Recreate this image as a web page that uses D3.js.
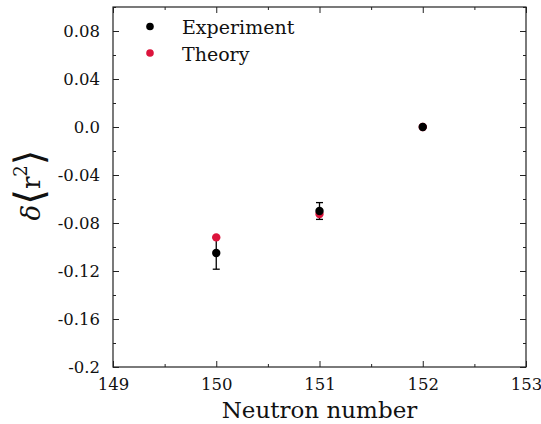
<!DOCTYPE html>
<html>
<head>
<meta charset="utf-8">
<script src="https://cdn.jsdelivr.net/npm/d3@7"></script>
<style>
  body { margin: 0; background: #fff; }
  svg text { font-family: "DejaVu Serif", serif; }
</style>
</head>
<body>
<svg id="chart"></svg>
<script>
// data
const neutrons = [150, 151, 152];
const experiment = [-0.105, -0.070, 0.0];
const expError = [0.0135, 0.007, 0];
const theory = [-0.092, -0.0725, 0.0];
const yTicks = [-0.2, -0.16, -0.12, -0.08, -0.04, 0.0, 0.04, 0.08];
const yTickLabels = ["-0.2", "-0.16", "-0.12", "-0.08", "-0.04", "0.0", "0.04", "0.08"];
const xTicks = [149, 150, 151, 152, 153];

const W = 541, H = 424;
const margin = { top: 7, right: 15, bottom: 57, left: 113 };
const width = W - margin.left - margin.right;
const height = H - margin.top - margin.bottom;

const svg = d3.select("#chart").attr("width", W).attr("height", H);
const g = svg.append("g").attr("transform", `translate(${margin.left},${margin.top})`);

const x = d3.scaleLinear().domain([149, 153]).range([0, width]);
const y = d3.scaleLinear().domain([-0.2, 0.1]).range([height, 0]);

const xMinor = d3.range(149.5, 153, 1);
const yMinor = d3.range(-0.18, 0.1, 0.04);

// ticks pointing inward on all four sides
function addTicks(sel, axis) {
  sel.call(axis);
  sel.attr("font-family", null);
  sel.select(".domain").remove();
  sel.selectAll("line").attr("stroke", "#222").attr("stroke-width", 1);
}

addTicks(g.append("g").attr("transform", `translate(0,${height})`),
  d3.axisBottom(x).tickValues(xTicks).tickSize(-6).tickPadding(11).tickFormat(d3.format("d")));
addTicks(g.append("g").attr("transform", `translate(0,${height})`),
  d3.axisBottom(x).tickValues(xMinor).tickSize(-3).tickFormat(""));
addTicks(g.append("g"), d3.axisTop(x).tickValues(xTicks).tickSize(-6).tickFormat(""));
addTicks(g.append("g"), d3.axisTop(x).tickValues(xMinor).tickSize(-3).tickFormat(""));

addTicks(g.append("g"),
  d3.axisLeft(y).tickValues(yTicks).tickSize(-6).tickPadding(13).tickFormat((d, i) => yTickLabels[i]));
addTicks(g.append("g"), d3.axisLeft(y).tickValues(yMinor).tickSize(-3).tickFormat(""));
addTicks(g.append("g").attr("transform", `translate(${width},0)`),
  d3.axisRight(y).tickValues(yTicks).tickSize(-6).tickFormat(""));
addTicks(g.append("g").attr("transform", `translate(${width},0)`),
  d3.axisRight(y).tickValues(yMinor).tickSize(-3).tickFormat(""));

g.selectAll(".tick text")
  .attr("font-size", 16.5)
  .attr("fill", "#111");

// frame
g.append("rect")
  .attr("width", width).attr("height", height)
  .attr("fill", "none").attr("stroke", "#222").attr("stroke-width", 1.2);

// error bars
const eb = g.append("g").attr("stroke", "#000").attr("stroke-width", 1.3);
neutrons.forEach((n, i) => {
  if (!expError[i]) return;
  const cx = x(n), y1 = y(experiment[i] + expError[i]), y2 = y(experiment[i] - expError[i]);
  eb.append("line").attr("x1", cx).attr("x2", cx).attr("y1", y1).attr("y2", y2);
  eb.append("line").attr("x1", cx - 3.5).attr("x2", cx + 3.5).attr("y1", y1).attr("y2", y1);
  eb.append("line").attr("x1", cx - 3.5).attr("x2", cx + 3.5).attr("y1", y2).attr("y2", y2);
});

g.selectAll(".theory").data(neutrons).join("circle")
  .attr("cx", d => x(d)).attr("cy", (d, i) => y(theory[i]))
  .attr("r", 4.2).attr("fill", "#dc143c");

g.selectAll(".exp").data(neutrons).join("circle")
  .attr("cx", d => x(d)).attr("cy", (d, i) => y(experiment[i]))
  .attr("r", 4.2).attr("fill", "#000");

// legend
const legend = [["Experiment", "#000"], ["Theory", "#dc143c"]];
legend.forEach(([name, c], i) => {
  const ly = 26.5 + i * 26.5;
  svg.append("circle").attr("cx", 150).attr("cy", ly).attr("r", 3.8).attr("fill", c);
  svg.append("text").attr("x", 182).attr("y", ly + 7.5).attr("font-size", 19).attr("fill", "#111").text(name);
});

// axis labels
svg.append("text")
  .attr("x", margin.left + width / 2).attr("y", 417.5)
  .attr("text-anchor", "middle").attr("font-size", 23).attr("fill", "#111")
  .text("Neutron number");

const yl = svg.append("text")
  .attr("transform", `translate(40,185) rotate(-90)`)
  .attr("text-anchor", "middle").attr("font-size", 26).attr("fill", "#111");
yl.append("tspan").attr("font-style", "italic").text("δ");
yl.append("tspan").attr("font-size", 40).attr("font-weight", 200).attr("dy", 3).text("⟨");
yl.append("tspan").attr("dy", -3).text("r");
yl.append("tspan").attr("font-size", 18).attr("dy", -13).text("2");
yl.append("tspan").attr("font-size", 40).attr("font-weight", 200).attr("dy", 16).text("⟩");
</script>
</body>
</html>
